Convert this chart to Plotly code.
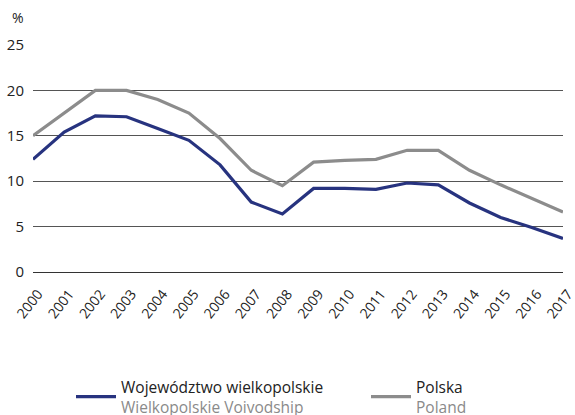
import plotly.graph_objects as go

years = list(range(2000, 2018))
wielkopolskie = [12.4, 15.4, 17.2, 17.1, 15.8, 14.5, 11.8, 7.7, 6.4, 9.2, 9.2, 9.1, 9.8, 9.6, 7.6, 6.0, 4.9, 3.7]
polska = [15.0, 17.5, 20.0, 20.0, 19.0, 17.5, 14.7, 11.2, 9.5, 12.1, 12.3, 12.4, 13.4, 13.4, 11.2, 9.6, 8.1, 6.6]
y_ticks = [0, 5, 10, 15, 20, 25]
pl_w, en_w = "Województwo wielkopolskie", "Wielkopolskie Voivodship"
pl_p, en_p = "Polska", "Poland"


def legend_name(pl, en):
    return f"{pl}<br><span style='color:#8a8a8a'>{en}</span>"


FONT = "Open Sans"
fig = go.Figure()
fig.add_trace(go.Scatter(x=years, y=wielkopolskie, mode="lines", name=legend_name(pl_w, en_w),
                         legend="legend",
                         line=dict(color="#27337f", width=3.2)))
fig.add_trace(go.Scatter(x=years, y=polska, mode="lines", name=legend_name(pl_p, en_p),
                         legend="legend2",
                         line=dict(color="#8c8c8c", width=3.2)))

W, H = 575, 415
ML, MR, MT, MB = 33, 12, 45, 143
pw, ph = W - ML - MR, H - MT - MB

leg_common = dict(orientation="h", xref="container", yref="container",
                  xanchor="left", yanchor="top", y=1 - 370 / H,
                  font=dict(size=15.5, color="#222"), valign="middle",
                  itemwidth=40, bgcolor="rgba(0,0,0,0)")

fig.update_layout(
    width=W, height=H,
    margin=dict(l=ML, r=MR, t=MT, b=MB, autoexpand=False),
    paper_bgcolor="white", plot_bgcolor="white",
    font=dict(family=FONT, size=14, color="#222"),
    showlegend=True,
    legend=dict(leg_common, x=71 / W),
    legend2=dict(leg_common, x=366 / W),
    xaxis=dict(range=[2000, 2017], tickmode="array", tickvals=years,
               ticktext=[str(y) for y in years], tickangle=-52,
               ticklabelshift=5, ticklabelstandoff=10, ticklabeloverflow="allow",
               showgrid=False, showline=False, zeroline=False, ticks="",
               automargin=False,
               tickfont=dict(size=14, color="#222")),
    yaxis=dict(range=[0, 25], tickmode="array", tickvals=y_ticks,
               showgrid=True, gridcolor="#555", gridwidth=1,
               zeroline=True, zerolinecolor="#333", zerolinewidth=1,
               showline=False, ticks="", ticklabelstandoff=8, automargin=False,
               tickfont=dict(size=15, color="#222")),
    annotations=[dict(text="%", xref="paper", yref="paper", showarrow=False,
                      x=(10 - ML) / pw, y=(H - MB - 18) / ph,
                      xanchor="left", yanchor="middle",
                      font=dict(size=14, color="#222"))],
)
fig.write_html("out.html", config={"displayModeBar": False},
               post_script="document.body.style.margin='0';")
